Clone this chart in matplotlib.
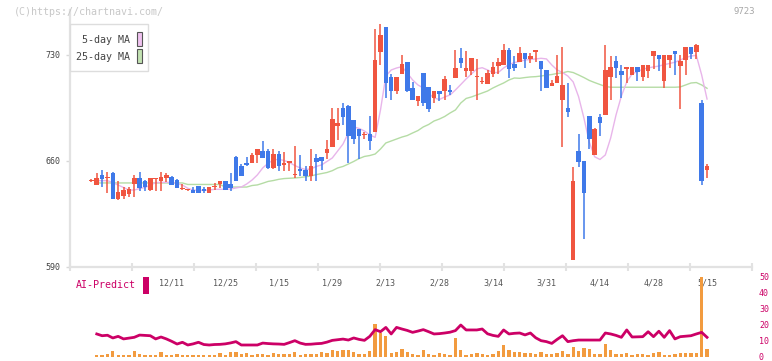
import numpy as np
import matplotlib
matplotlib.use("Agg")
import matplotlib.pyplot as plt
from matplotlib.patches import Rectangle

# ---- data (prices per trading day) ----
opens = [647, 644, 651, 648.5, 652, 635, 637, 638, 645, 649, 647, 641, 648, 647, 649, 649.5, 647.5, 641.3, 640.7, 641,
         643.5, 641.5, 639, 642.8, 645, 647, 645, 662.5, 657, 659, 659, 664, 666.5, 666.5, 655.5, 664.5, 657.4, 658.7, 650.6, 654.7,
         654, 650, 662, 662.6, 665.3, 669, 683, 695, 696, 687, 681, 677.2, 677.8, 679, 732, 748.5, 715.5, 706, 717.5, 725.4,
         708, 699.6, 718, 709, 701.6, 706.2, 706, 707, 714.8, 728, 719.4, 719.4, 715.3, 712, 710.8, 717.5, 722.7, 723.4, 733.3, 724,
         725.4, 731.3, 727.4, 732, 726, 720, 709.5, 711.5, 700.3, 695, 594.6, 666.6, 660, 689.7, 664, 689, 690.4, 715.5, 726, 719.4,
         720.8, 716.8, 722.1, 715.5, 719.4, 729.3, 730, 712.8, 726.7, 732.6, 722.7, 726.7, 735.3, 732, 698.3, 654.1]
highs = [648, 652, 654, 653, 652.5, 647, 643, 643, 651, 653, 647.5, 649, 649, 653, 652, 650, 648, 645, 641.5, 643,
         643.5, 643, 643, 645.5, 647, 647, 652, 663, 658, 662.5, 665, 668, 673, 668, 668, 666.5, 666, 660, 670, 664,
         657, 668, 664.6, 662.6, 674, 695, 695, 698, 697, 687, 681, 679, 690, 747, 750.5, 748.5, 717.5, 715.5, 730, 725.4,
         712, 703, 718, 709, 706.2, 706.2, 716, 710, 733, 734.6, 732.6, 728, 727.4, 715.5, 720, 725.4, 728, 737.3, 734.6, 729.3,
         735.3, 731.3, 731.3, 733.3, 726, 720, 713.5, 730, 735.3, 711.5, 656, 677.8, 660, 689.7, 681.8, 691, 736.6, 729.3, 729.3, 723.4,
         722.1, 722.1, 722.1, 723.4, 723.4, 732.6, 730, 730, 730, 732.6, 730, 735.3, 735.3, 737.3, 700.3, 658]
lows = [646, 644, 643, 639, 635, 634.5, 635, 636, 636, 640, 640, 640, 640, 640, 646, 644, 642, 640.8, 640, 639,
        639, 639, 639, 641, 642, 641, 640, 646.5, 650, 657, 659, 659, 662, 655, 655, 653.5, 653.5, 653.5, 649, 650,
        647, 647, 647, 654, 661.3, 669, 674, 684, 659, 671, 661, 674.5, 667, 679, 723.4, 701.6, 700, 704, 717.5, 705.6,
        700, 696.3, 696.3, 692.4, 698.3, 699.6, 700, 703.6, 714.8, 721.4, 715.5, 716.8, 700.3, 710.8, 710.8, 715.5, 717.5, 723.4, 714.8, 719.4,
        725.4, 721.4, 724.7, 725.4, 706.2, 708.2, 709.5, 711.5, 669.2, 689, 594.6, 656, 608.5, 668, 664, 676.5, 690.4, 700.3, 714.8, 701.6,
        711.5, 716.8, 712.8, 712.8, 714.8, 720.8, 719.4, 708.2, 721.4, 716.8, 694.3, 716.8, 727.4, 727.4, 644.1, 648.8]
closes = [647.3, 649, 648, 649, 635, 639.5, 641, 641.5, 649, 642, 643, 649, 648.8, 649.5, 651, 644, 642, 641.5, 640.8, 639,
          639, 640, 643, 643, 647, 641, 642, 647, 650, 657.5, 664, 668, 662, 655.5, 664.5, 657, 658.7, 660, 650.8, 653.4,
          650, 656.7, 659.3, 660, 668, 687.7, 685, 689, 676.5, 674.5, 676.5, 677.8, 673.2, 727, 743, 711.5, 706, 715.5, 724, 706.2,
          700.3, 703, 698.3, 694.3, 706.2, 704.2, 714, 705.6, 721.4, 724.7, 721.4, 728, 715.5, 712.2, 718, 722, 725.4, 733.3, 720.8, 721.4,
          731.3, 727.4, 729.3, 733.3, 720.8, 708.2, 711.5, 716, 710.2, 692.4, 646.8, 659.3, 639, 674.5, 681, 685, 720, 722, 721.4, 716.8,
          722.1, 722.1, 718.8, 723.4, 723.4, 732.6, 727.4, 730, 730, 730.7, 726, 735.3, 730.7, 736.6, 646.8, 656.7]

ma5 = [np.nan, 647.0, 647.0, 647.0, 645.7, 644.1, 642.5, 640.8, 640.8, 641.8, 642.5, 644.1, 645.7, 645.9, 645.9, 645.9, 645.1, 644.1, 642.0, 640.8,
       640.6, 640.6, 640.8, 641.3, 641.3, 641.3, 641.5, 642.2, 642.8, 644.8, 647.4, 650.8, 655.4, 658.5, 660.7, 661.1, 660.3, 659.0, 657.0, 655.4,
       654.4, 654.7, 656.4, 657.4, 659.7, 662.0, 666.6, 671.2, 678.5, 682.5, 681.5, 679.8, 677.2, 675.6, 693.7, 716.1, 720.1, 721.4, 722.3, 718.1,
       713.5, 710.2, 708.2, 704.7, 701.6, 700.6, 702.3, 703.6, 706.9, 710.5, 714.2, 717.5, 720.8, 721.6, 720.1, 718.4, 718.4, 721.4, 723.7, 725.0,
       725.7, 726.7, 727.0, 727.4, 727.8, 727.4, 723.4, 720.1, 718.4, 716.1, 712.2, 702.5, 688.4, 672.5, 662.8, 661.0, 664.0, 675.2, 690.4, 702.9,
       712.2, 717.5, 719.0, 720.6, 721.5, 722.1, 722.7, 723.6, 724.4, 725.2, 726.7, 728.3, 729.3, 729.7, 716.8, 700.9]
ma25 = [np.nan, 645.5, 645.5, 645.5, 645.5, 645.5, 645.5, 645.5, 645.5, 645.5, 645.5, 645.5, 645.5, 645.5, 645.5, 645.5, 645.5, 645.5, 644.5, 644.5,
        644.5, 644.5, 644.5, 644.5, 644.5, 642.8, 642.8, 642.8, 642.8, 642.8, 643.8, 644.2, 645.3, 646.5, 647.1, 647.9, 648.4, 648.6, 648.8, 649.1,
        649.6, 650.1, 651.0, 651.7, 652.4, 653.6, 655.4, 656.4, 658.0, 659.7, 661.6, 663.0, 663.6, 664.6, 667.9, 671.9, 673.2, 674.5, 675.8, 676.8,
        678.5, 680.1, 682.5, 684.1, 686.4, 687.7, 689.4, 691.7, 693.7, 698.3, 701.3, 702.3, 703.6, 704.9, 706.2, 708.2, 709.9, 711.5, 713.5, 714.8,
        714.6, 715.1, 715.5, 715.7, 716.1, 716.7, 717.1, 717.8, 718.2, 719.1, 718.4, 716.8, 715.1, 713.2, 711.8, 710.5, 709.2, 708.7, 708.7, 708.7,
        708.7, 708.7, 708.7, 708.7, 708.7, 708.7, 708.7, 708.7, 708.7, 708.7, 708.9, 710.2, 711.5, 711.8, 710.2, 708.0]

# AI-Predict panel
volume = [0, 1.2, 1.2, 1.9, 3.8, 1.2, 1.2, 1.2, 3.8, 1.9, 1.2, 1.2, 1.2, 3.1, 1.2, 1.2, 1.9, 1.2, 1.2, 1.2,
          1.2, 1.2, 1.2, 1.2, 2.5, 1.2, 3.1, 3.1, 1.9, 2.5, 1.2, 1.9, 1.9, 1.2, 2.5, 1.9, 1.9, 1.9, 3.1, 1.2,
          1.9, 1.9, 1.9, 3.1, 2.5, 4.4, 3.8, 4.4, 4.4, 3.1, 1.9, 1.9, 3.8, 20.6, 15.0, 13.3, 2.5, 3.1, 5.2, 3.1,
          1.9, 1.2, 4.4, 1.9, 1.2, 2.5, 1.9, 1.2, 11.9, 4.4, 1.2, 1.9, 2.5, 1.9, 1.2, 1.9, 3.8, 7.5, 4.4, 3.1,
          3.1, 2.5, 2.5, 1.9, 3.1, 1.9, 1.9, 2.5, 3.8, 1.9, 6.2, 3.8, 5.6, 5.0, 1.9, 1.9, 8.1, 4.4, 1.9, 1.9,
          2.5, 1.2, 1.9, 1.9, 1.2, 2.5, 3.1, 1.2, 1.2, 1.9, 2.5, 2.5, 2.5, 2.5, 50.0, 5.0]
ai_line = [np.nan, 14.4, 13.3, 13.6, 11.9, 12.9, 11.3, 11.8, 12.3, 13.7, 13.5, 13.3, 11.3, 12.5, 11.3, 9.8, 8.1, 9.2, 7.5, 8.2,
           9.2, 7.8, 7.5, 7.8, 7.9, 8.2, 8.8, 9.6, 7.5, 7.5, 7.5, 7.5, 8.7, 8.4, 8.2, 8.1, 7.9, 9.0, 10.2, 8.7,
           7.9, 8.0, 8.3, 8.5, 9.3, 10.4, 10.8, 11.2, 10.6, 11.9, 11.0, 10.4, 12.9, 17.1, 15.8, 18.5, 14.4, 18.5, 17.5, 16.6,
           15.4, 16.2, 17.1, 15.8, 14.4, 14.6, 15.0, 15.5, 16.5, 20.0, 16.9, 16.9, 16.9, 17.5, 14.5, 13.5, 12.9, 16.9, 14.4, 14.8,
           15.0, 13.8, 15.0, 12.0, 10.2, 9.6, 8.5, 11.0, 13.3, 9.6, 10.2, 10.6, 10.6, 10.6, 10.6, 10.6, 15.0, 14.4, 13.5, 12.3,
           16.9, 12.5, 12.6, 12.7, 15.8, 12.7, 16.1, 12.3, 16.5, 11.3, 12.7, 13.0, 13.3, 14.4, 15.4, 12.3]

date_labels = ["12/11", "12/25", "1/15", "1/29", "2/13", "2/28", "3/14", "3/31", "4/14", "4/28", "5/15"]
label_idx = [15, 25, 35, 45, 55, 65, 75, 85, 95, 105, 115]

RED = "#f05540"
BLUE = "#3f79e9"
MONO = "DejaVu Sans Mono"
W, H = 772, 361

x = np.arange(len(closes))
o = np.array(opens); c = np.array(closes)
cols = [RED if cc >= oo else BLUE for oo, cc in zip(o, c)]
body_lo = np.minimum(o, c)
body_h = np.maximum(np.abs(c - o), 0.7)

fig = plt.figure(figsize=(W / 100, H / 100), dpi=100)
xlim = (-4.0, 123.4)

# main price panel
ax = fig.add_axes([70 / W, 1 - 267 / H, 682 / W, 257 / H])
ax.set_facecolor("none")
ax.set_xlim(*xlim)
ax.set_ylim(590, 759.7)
ax.plot(x, ma25, color="#b5dca5", lw=1.0, zorder=1)
ax.plot(x, ma5, color="#e8b5ea", lw=1.0, zorder=1)
ax.vlines(x, lows, highs, colors=cols, lw=1.1, zorder=2)
ax.bar(x, body_h, bottom=body_lo, width=0.85, color=cols, lw=0, zorder=3)

for s in ["top", "right"]:
    ax.spines[s].set_visible(False)
for s in ["left", "bottom"]:
    ax.spines[s].set_color("#e2e2e2")
    ax.spines[s].set_linewidth(1.6)
ax.set_yticks([590, 660, 730])
ax.tick_params(axis="y", length=3, width=1, color="#d8d8d8", labelsize=6, labelcolor="#444444", pad=4)
for t in ax.get_yticklabels():
    t.set_family(MONO)
ax.set_xticks(np.linspace(xlim[0], xlim[1], 12))
ax.tick_params(axis="x", direction="inout", length=6, width=1.5, color="#e2e2e2", labelbottom=False)
for i, lab in zip(label_idx, date_labels):
    ax.text(i, -0.062, lab, transform=ax.get_xaxis_transform(), ha="center", va="center",
            fontsize=6, color="#555555", family=MONO, clip_on=False)

# AI-Predict panel, transparent and on top so its bars overlap the date labels
ax2 = fig.add_axes([70 / W, 1 - 357 / H, 682 / W, 80 / H])
ax2.set_zorder(2)
ax2.set_facecolor("none")
ax2.set_xlim(*xlim)
ax2.set_ylim(0, 50)
ax2.bar(x, volume, width=0.62, color="#f29b3f", lw=0, zorder=1)
ax2.plot(x, ai_line, color="#cc0066", lw=2.0, zorder=2)
for s in ax2.spines.values():
    s.set_visible(False)
ax2.set_xticks([])
ax2.yaxis.tick_right()
ax2.set_yticks([0, 10, 20, 30, 40, 50])
ax2.tick_params(axis="y", length=0, labelsize=6, labelcolor="#cc0066", pad=5)
for t in ax2.get_yticklabels():
    t.set_family(MONO)

# legend box
fig.patches.append(Rectangle((70 / W, 1 - 71 / H), 78 / W, 47 / H, transform=fig.transFigure,
                             facecolor="white", edgecolor="#dddddd", lw=1, zorder=5))
fig.text(130 / W, 1 - 40 / H, "5-day MA", ha="right", va="center", fontsize=7.2, color="#444444", family=MONO, zorder=6)
fig.text(130 / W, 1 - 57 / H, "25-day MA", ha="right", va="center", fontsize=7.2, color="#444444", family=MONO, zorder=6)
fig.patches.append(Rectangle((137 / W, 1 - 46 / H), 5 / W, 14 / H, transform=fig.transFigure,
                             facecolor="#f0c2f0", edgecolor="#555555", lw=0.8, zorder=6))
fig.patches.append(Rectangle((137 / W, 1 - 63 / H), 5 / W, 14 / H, transform=fig.transFigure,
                             facecolor="#c2e2b2", edgecolor="#555555", lw=0.8, zorder=6))

fig.text(14 / W, 1 - 12 / H, "(C)https://chartnavi.com/", ha="left", va="center", fontsize=7.2, color="#c8c8c8", family=MONO)
fig.text(755 / W, 1 - 12 / H, "9723", ha="right", va="center", fontsize=6.5, color="#a8a8a8", family=MONO)

fig.text(76 / W, 1 - 285 / H, "AI-Predict", ha="left", va="center", fontsize=7.2, color="#cc0066", family=MONO)
fig.patches.append(Rectangle((143 / W, 1 - 294 / H), 6 / W, 17 / H, transform=fig.transFigure,
                             facecolor="#cc0066", edgecolor="none"))

fig.savefig("out.png", dpi=100)
